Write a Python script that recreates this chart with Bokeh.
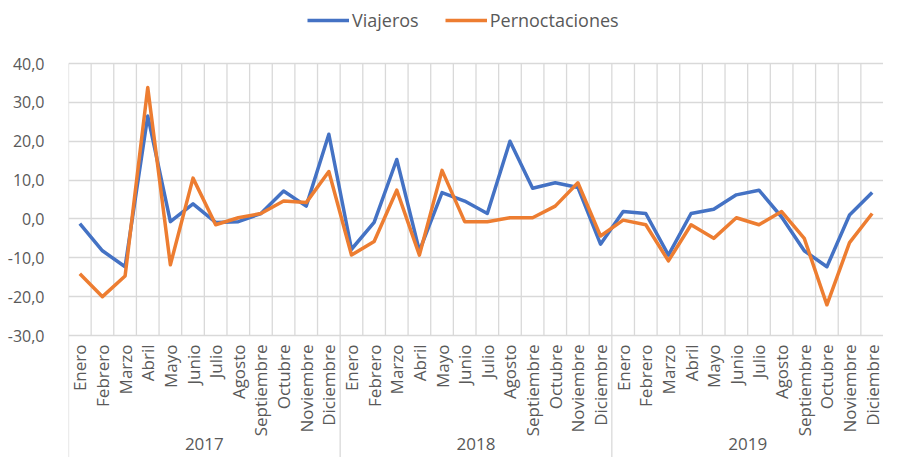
from bokeh.plotting import figure
from bokeh.models import (FactorRange, Range1d, FixedTicker, CustomJSTickFormatter,
                          Legend, LegendItem, ColumnDataSource)
from bokeh.core.properties import value
from bokeh.embed import file_html
from bokeh.resources import INLINE
import math

years = ["2017", "2018", "2019"]
months = ["Enero", "Febrero", "Marzo", "Abril", "Mayo", "Junio", "Julio", "Agosto",
          "Septiembre", "Octubre", "Noviembre", "Diciembre"]

viajeros = [-1.2, -8.2, -12.3, 26.5, -0.7, 3.9, -0.9, -0.7, 1.4, 7.2, 3.3, 21.8,
            -7.8, -0.9, 15.3, -8.2, 6.8, 4.6, 1.4, 20.0, 7.9, 9.3, 8.1, -6.5,
            1.9, 1.4, -9.3, 1.4, 2.5, 6.2, 7.4, 0.5, -8.2, -12.3, 1.0, 6.8]
pernoctaciones = [-14.1, -20.0, -14.7, 33.8, -11.8, 10.5, -1.5, 0.3, 1.4, 4.6, 4.2, 12.2,
                  -9.3, -5.8, 7.4, -9.3, 12.5, -0.7, -0.7, 0.3, 0.3, 3.3, 9.3, -4.4,
                  -0.3, -1.5, -10.8, -1.5, -5.0, 0.3, -1.5, 1.9, -5.0, -22.1, -6.1, 1.4]
y_ticks = [-30, -20, -10, 0, 10, 20, 30, 40]

FONT = "Open Sans"
TXT = "#595959"
GRID = "#d9d9d9"
BLUE = "#4472C4"
ORANGE = "#ED7D31"

factors = [(y, m) for y in years for m in months]
x_idx = [i + 0.5 for i in range(len(factors))]          # synthetic centres
n_m = len(months)

W, H = 883, 457
LEFT = 68
PX = 3.886                       # pixels per data unit
y_low, y_top = min(y_ticks), max(y_ticks)
y_max = y_top + 63 / PX
y_min = y_max - H / PX
month_label_y = y_low - 9 / PX
year_label_y = y_low - 108 / PX

p = figure(width=W, height=H, output_backend="svg", toolbar_location=None,
           x_range=FactorRange(factors=factors, factor_padding=0, group_padding=0,
                               range_padding=0),
           y_range=Range1d(y_min, y_max), x_axis_location=None,
           min_border_left=LEFT, min_border_top=0, min_border_right=0,
           min_border_bottom=0)
p.outline_line_color = None
p.xgrid.visible = False
p.ygrid.ticker = FixedTicker(ticks=y_ticks)
p.ygrid.grid_line_color = GRID
p.ygrid.grid_line_width = 1.3

ax = p.yaxis[0]
ax.ticker = FixedTicker(ticks=y_ticks)
ax.formatter = CustomJSTickFormatter(code="return tick.toFixed(1).replace('.', ',');")
ax.axis_line_color = None
ax.major_tick_line_color = None
ax.minor_tick_line_color = None
ax.major_label_standoff = 18
ax.major_label_text_font = FONT
ax.major_label_text_font_size = "16px"
ax.major_label_text_color = TXT

# category boundaries (synthetic coordinates)
inner = [float(i) for i in range(len(factors)) if i % n_m != 0]
starts = [float(i) for i in range(0, len(factors), n_m)]
p.segment(x0=inner, x1=inner, y0=[y_low] * len(inner), y1=[y_top] * len(inner),
          line_color=GRID, line_width=1.3)
p.segment(x0=starts, x1=starts, y0=[y_min] * len(starts), y1=[y_top] * len(starts),
          line_color=GRID, line_width=1.3)

# labels
p.text(x=x_idx, y=[month_label_y] * len(factors), text=[m for (_, m) in factors],
       angle=math.pi / 2, text_align="right", text_baseline="middle",
       text_font=value(FONT), text_font_size="17px", text_color=TXT)
year_x = [s + n_m / 2 for s in starts]
p.text(x=year_x, y=[year_label_y] * len(years), text=years,
       text_align="center", text_baseline="middle",
       text_font=value(FONT), text_font_size="17px", text_color=TXT)

src = ColumnDataSource(dict(x=x_idx, v=viajeros, n=pernoctaciones))
r1 = p.line("x", "v", source=src, line_color=BLUE, line_width=3.5, line_join="round")
r2 = p.line("x", "n", source=src, line_color=ORANGE, line_width=3.5, line_join="round")

legend = Legend(items=[LegendItem(label="Viajeros", renderers=[r1]),
                       LegendItem(label="Pernoctaciones", renderers=[r2])],
                orientation="horizontal", location=(239, H - 32),
                border_line_color=None, background_fill_alpha=0,
                label_text_font=FONT, label_text_font_size="18px",
                label_text_color=TXT, glyph_width=42, glyph_height=20,
                label_height=20, label_standoff=3,
                spacing=26, margin=0, padding=2)
p.add_layout(legend)

open("out.html", "w").write(file_html(p, INLINE))
